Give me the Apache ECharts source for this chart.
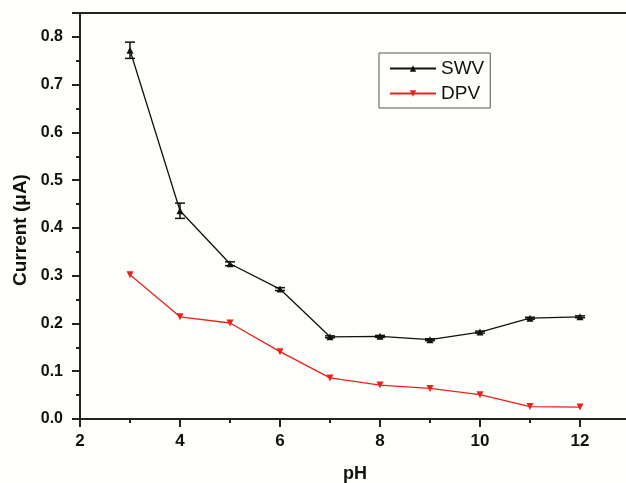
<!DOCTYPE html>
<html>
<head>
<meta charset="utf-8">
<script src="https://cdn.jsdelivr.net/npm/echarts@6/dist/echarts.min.js"></script>
<style>
  html, body { margin: 0; padding: 0; background: #fefefb; }
  #chart { width: 626px; height: 483px; }
</style>
</head>
<body>
<div id="chart"></div>
<script>
// 数据
var phValues = [3, 4, 5, 6, 7, 8, 9, 10, 11, 12];
var swvValues = [0.772, 0.436, 0.325, 0.272, 0.172, 0.173, 0.166, 0.182, 0.211, 0.214];
var swvErr = [0.017, 0.016, 0.004, 0.003, 0.002, 0.002, 0.002, 0.002, 0.002, 0.002];
var dpvValues = [0.302, 0.214, 0.201, 0.141, 0.086, 0.071, 0.064, 0.051, 0.026, 0.025];
var yTicks = [0.0, 0.1, 0.2, 0.3, 0.4, 0.5, 0.6, 0.7, 0.8];

function pairs(ys) {
    return phValues.map(function (x, i) { return [x, ys[i]]; });
}

var errData = phValues.map(function (x, i) {
    return [x, swvValues[i] - swvErr[i], swvValues[i] + swvErr[i]];
});

var myChart = echarts.init(document.getElementById('chart'));
myChart.setOption({
    backgroundColor: '#fefefb',
    animation: false,
    textStyle: { fontFamily: 'Liberation Sans, Arial, sans-serif' },
    grid: {
        left: 80,
        width: 550,
        top: 13,
        height: 406,
        containLabel: false,
        outerBoundsMode: 'none',
        show: true,
        borderColor: '#222',
        borderWidth: 2,
        backgroundColor: 'transparent'
    },
    legend: {
        left: 379,
        top: 53,
        orient: 'vertical',
        data: ['SWV', 'DPV'],
        itemWidth: 46,
        itemHeight: 8,
        itemGap: 6,
        padding: [6, 6, 5, 10],
        borderColor: '#555',
        borderWidth: 1,
        textStyle: { fontSize: 19, color: '#111', fontFamily: 'Liberation Sans, Arial, sans-serif' }
    },
    xAxis: {
        type: 'value',
        min: 2,
        max: 13,
        interval: 2,
        name: 'pH',
        nameLocation: 'middle',
        nameGap: 46,
        nameTextStyle: { fontSize: 18, fontWeight: 'bold', color: '#111' },
        axisLine: { show: true, lineStyle: { color: '#222', width: 2 } },
        axisTick: { show: true, inside: false, length: 8, lineStyle: { width: 2, color: '#222' } },
        minorTick: { show: true, splitNumber: 2, length: 4, lineStyle: { width: 2, color: '#222' } },
        axisLabel: {
            fontSize: 17, fontWeight: 'bold', color: '#111', margin: 14,
            formatter: function (v) { return v > 12 ? '' : v; }
        },
        splitLine: { show: false }
    },
    yAxis: {
        type: 'value',
        min: 0,
        max: 0.85,
        interval: 0.1,
        name: 'Current (\u03bcA)',
        nameLocation: 'middle',
        nameGap: 48,
        nameTextStyle: { fontSize: 19, fontWeight: 'bold', color: '#111', padding: [0, 28, 0, 0] },
        axisLine: { show: true, lineStyle: { color: '#222', width: 2 } },
        axisTick: { show: true, inside: false, length: 8, lineStyle: { width: 2, color: '#222' } },
        minorTick: { show: true, splitNumber: 2, length: 4, lineStyle: { width: 2, color: '#222' } },
        axisLabel: {
            fontSize: 16, fontWeight: 'bold', color: '#111', margin: 17,
            formatter: function (v) {
                var t = yTicks.filter(function (k) { return Math.abs(k - v) < 1e-6; });
                return t.length ? v.toFixed(1) : '';
            }
        },
        splitLine: { show: false }
    },
    series: [{
        name: 'SWV',
        type: 'line',
        data: pairs(swvValues),
        symbol: 'triangle',
        symbolSize: 7,
        itemStyle: { color: '#111' },
        lineStyle: { color: '#111', width: 1.3 },
        z: 3
    }, {
        name: 'DPV',
        type: 'line',
        data: pairs(dpvValues),
        symbol: 'triangle',
        symbolRotate: 180,
        symbolSize: 7,
        itemStyle: { color: '#e8221c' },
        lineStyle: { color: '#e8221c', width: 1.3 },
        z: 3
    }, {
        name: 'err',
        type: 'custom',
        data: errData,
        z: 4,
        renderItem: function (params, api) {
            var x = api.value(0);
            var lo = api.coord([x, api.value(1)]);
            var hi = api.coord([x, api.value(2)]);
            var hw = 5;
            var st = { stroke: '#111', lineWidth: 1.5 };
            return {
                type: 'group',
                children: [
                    { type: 'line', shape: { x1: lo[0], y1: lo[1], x2: hi[0], y2: hi[1] }, style: st },
                    { type: 'line', shape: { x1: lo[0] - hw, y1: lo[1], x2: lo[0] + hw, y2: lo[1] }, style: st },
                    { type: 'line', shape: { x1: hi[0] - hw, y1: hi[1], x2: hi[0] + hw, y2: hi[1] }, style: st }
                ]
            };
        }
    }]
});
</script>
</body>
</html>
